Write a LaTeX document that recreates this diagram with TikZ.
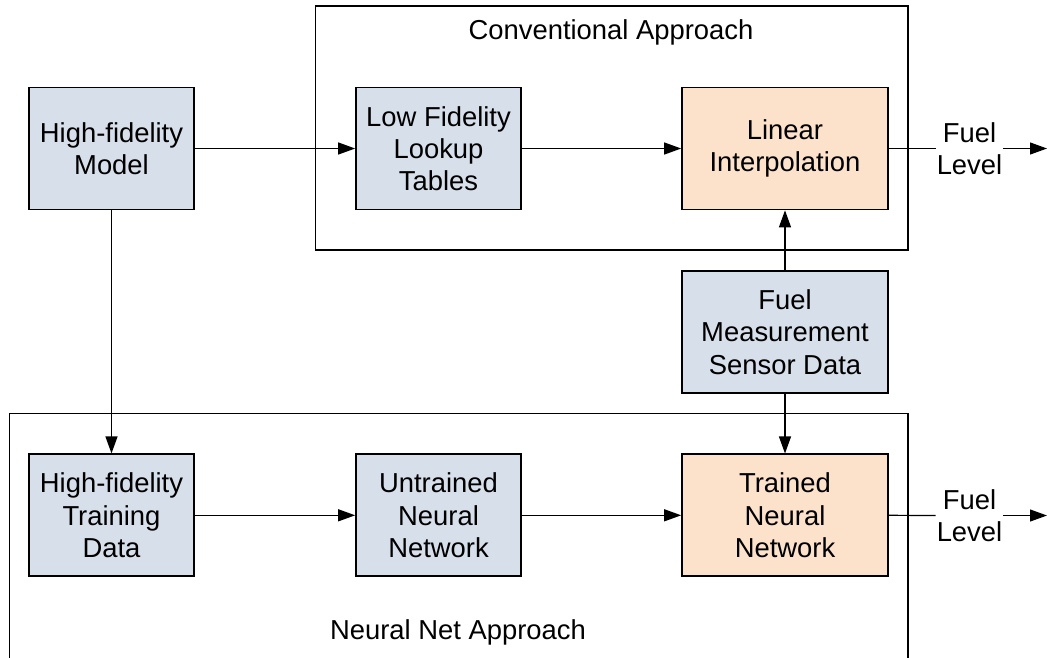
\documentclass[tikz,border=0pt]{standalone}
\usepackage{fontspec}
\setmainfont{Liberation Sans}
\usetikzlibrary{arrows.meta}
\definecolor{boxblue}{RGB}{214,223,234}
\definecolor{boxorange}{RGB}{252,225,203}
\begin{document}
\begin{tikzpicture}[x=1pt,y=-1pt,
  txt/.style={font=\fontsize{27.4}{32.3}\selectfont, align=center},
  block/.style={txt, draw=black, line width=1.7pt, rectangle, minimum height=122pt, inner sep=2pt},
  narrow/.style={block, minimum width=165pt},
  wide/.style={block, minimum width=206pt},
  blue/.style={fill=boxblue},
  orange/.style={fill=boxorange},
  frame/.style={draw=black, line width=1.3pt},
  link/.style={draw=black, line width=1.2pt},
  arr/.style={link, -{Triangle[length=17pt,width=12pt]}},
  outlabel/.style={txt, inner sep=1pt}]
\useasboundingbox (0,0) rectangle (1047,657);

% approach frames
\draw[frame] (315.7,6) rectangle (908,250);
\draw[frame] (9.5,700) -- (9.5,413.5) -- (908,413.5) -- (908,700);
\node[txt] (convlabel) at (611,32) {Conventional Approach};
\node[txt] (nnlabel) at (458,632) {Neural Net Approach};

% blocks
\node[narrow, blue] (hfm) at (111.5,148.5) {High-fidelity\\Model};
\node[narrow, blue] (lft) at (438.5,148.5) {Low Fidelity\\Lookup\\Tables};
\node[wide, orange] (li) at (785,148.5) {Linear\\Interpolation};
\node[wide, blue] (fms) at (785,332) {Fuel\\Measurement\\Sensor Data};
\node[narrow, blue] (hftd) at (111.5,515.3) {High-fidelity\\Training\\Data};
\node[narrow, blue] (unn) at (438.5,515.3) {Untrained\\Neural\\Network};
\node[wide, orange] (tnn) at (785,515.3) {Trained\\Neural\\Network};

% outputs
\node[outlabel] (fl1) at (969.5,148.5) {Fuel\\Level};
\node[outlabel] (fl2) at (969.5,515.5) {Fuel\\Level};
\coordinate (out1) at (1047,148.5);
\coordinate (out2) at (1047,515.5);

% connectors
\draw[arr] (hfm.east) -- (lft.west);
\draw[arr] (lft.east) -- (li.west);
\draw[arr] (hfm.south) -- (hftd.north);
\draw[arr] (hftd.east) -- (unn.west);
\draw[arr] (unn.east) -- (tnn.west);
\draw[arr] (fms.north) -- (li.south);
\draw[arr] (fms.south) -- (tnn.north);
\draw[link] (li.east) -- (fl1.west);
\draw[arr] (fl1.east) -- (out1);
\draw[link] (tnn.east) -- (fl2.west);
\draw[arr] (fl2.east) -- (out2);
\end{tikzpicture}
\end{document}
